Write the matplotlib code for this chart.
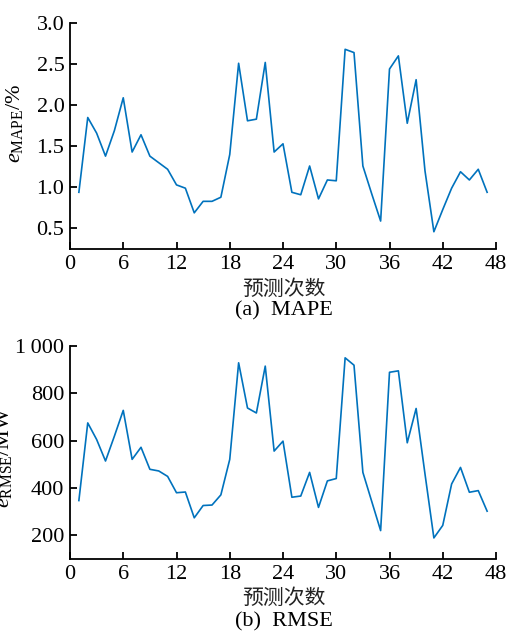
import matplotlib
matplotlib.use("Agg")
import matplotlib.pyplot as plt

x = list(range(1, 48))
mape = [0.94, 1.85, 1.66, 1.38, 1.69, 2.09, 1.43, 1.64, 1.38, 1.30, 1.22, 1.03, 0.99, 0.69, 0.83, 0.83, 0.88, 1.40, 2.51, 1.81, 1.83, 2.52, 1.43, 1.53, 0.94, 0.91, 1.26, 0.86, 1.09, 1.08, 2.68, 2.64, 1.26, 0.92, 0.59, 2.44, 2.60, 1.78, 2.31, 1.20, 0.46, 0.73, 0.99, 1.19, 1.09, 1.22, 0.94]
rmse = [347, 675, 605, 514, 619, 728, 521, 572, 479, 472, 449, 380, 383, 274, 326, 328, 371, 521, 929, 738, 717, 915, 556, 598, 361, 366, 466, 318, 430, 440, 950, 919, 466, 343, 220, 889, 895, 591, 736, 459, 189, 242, 417, 487, 382, 389, 302]
xticks = [0, 6, 12, 18, 24, 30, 36, 42, 48]
mape_ticks = [0.5, 1.0, 1.5, 2.0, 2.5, 3.0]
rmse_ticks = [200, 400, 600, 800, 1000]
rmse_ticklabels = ["200", "400", "600", "800", "1\u2009000"]

serif = ["Liberation Serif", "DejaVu Serif"]
cjk = ["Noto Sans CJK SC", "DejaVu Sans"]
plt.rcParams["font.family"] = serif
plt.rcParams["mathtext.fontset"] = "custom"
plt.rcParams["mathtext.rm"] = "Liberation Serif"
plt.rcParams["mathtext.it"] = "Liberation Serif:italic"

W, H = 511, 633
fig = plt.figure(figsize=(W / 100, H / 100), dpi=100)
color = "#0072BD"

def style(ax):
    for s in ["top", "right"]:
        ax.spines[s].set_visible(False)
    for s in ["left", "bottom"]:
        ax.spines[s].set_linewidth(1.3)
    ax.tick_params(direction="in", length=5, width=1.3, labelsize=16, pad=4)
    ax.set_xlim(0, 48)
    ax.set_xticks(xticks)

ax1 = fig.add_axes([70 / W, 1 - 249 / H, 426 / W, 226 / H])
ax1.plot(x, mape, color=color, lw=1.2)
style(ax1)
ax1.set_ylim(0.25, 3.0)
ax1.set_yticks(mape_ticks)
ax1.set_yticklabels([f"{v:.1f}" for v in mape_ticks])
ax1.set_ylabel(r"$e_{\mathrm{MAPE}}$/%", fontsize=16)
ax1.yaxis.set_label_coords(-0.106, 0.555)

ax2 = fig.add_axes([70 / W, 1 - 559 / H, 426 / W, 213 / H])
ax2.plot(x, rmse, color=color, lw=1.2)
style(ax2)
ax2.set_ylim(100, 1000)
ax2.set_yticks(rmse_ticks)
ax2.set_yticklabels(rmse_ticklabels)
ax2.set_ylabel(r"$e_{\mathrm{RMSE}}$/MW", fontsize=16)
ax2.yaxis.set_label_coords(-0.131, 0.48)

fig.text(284 / W, 1 - 289 / H, "预测次数", ha="center", va="center", fontsize=15, family=cjk, color="#222222")
fig.text(284 / W, 1 - 311 / H, "(a)  MAPE", ha="center", va="center", fontsize=16)
fig.text(284 / W, 1 - 598 / H, "预测次数", ha="center", va="center", fontsize=15, family=cjk, color="#222222")
fig.text(284 / W, 1 - 622 / H, "(b)  RMSE", ha="center", va="center", fontsize=16)

fig.savefig("out.png", dpi=100)
